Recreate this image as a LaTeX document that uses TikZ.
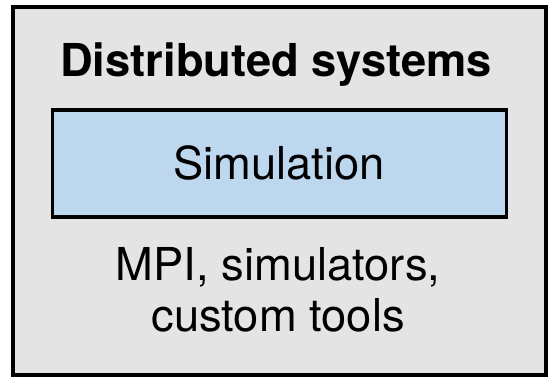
\documentclass[tikz,border=0pt]{standalone}
\usepackage{fontspec}
\setmainfont{TeX Gyre Heros}
\definecolor{panelgray}{HTML}{E4E4E4}
\definecolor{layerblue}{HTML}{BDD7EE}
\begin{document}
\begin{tikzpicture}[x=1pt,y=1pt,
  frame/.style={draw=black,line width=4pt},
  label/.style={anchor=base,inner sep=0pt,font=\fontsize{47.5}{54}\selectfont}]
\useasboundingbox (0,0) rectangle (586,-400.4);
% outer panel
\draw[frame,fill=panelgray] (13.5,-7.5) rectangle (572.5,-393);
% title
\node[label,font=\fontsize{47.5}{54}\selectfont\bfseries] (title) at (289.5,-80.7) {Distributed systems};
% simulation layer
\draw[frame,fill=layerblue] (55,-115) rectangle (531,-227.5);
\node[label] (sim) at (292.5,-188) {Simulation};
% tooling description
\node[label] (tools1) at (291.5,-294) {MPI, simulators,};
\node[label] (tools2) at (291.5,-348) {custom tools};
\end{tikzpicture}
\end{document}
